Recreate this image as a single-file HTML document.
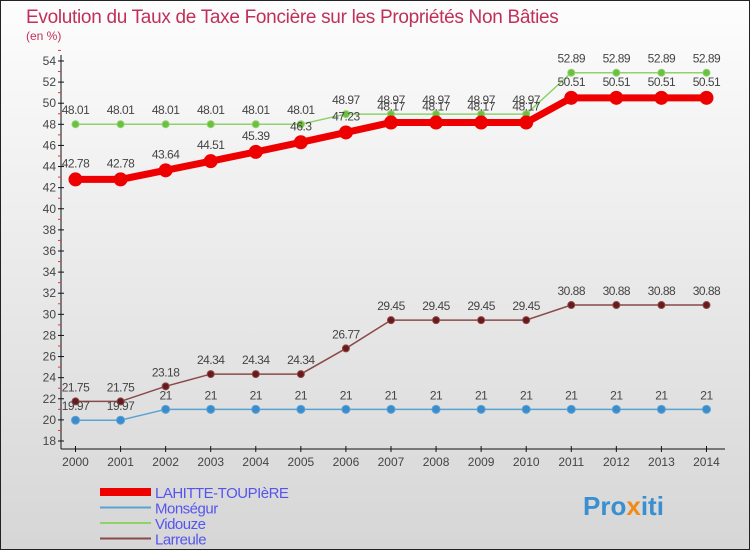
<!DOCTYPE html>
<html><head><meta charset="utf-8"><style>
body{margin:0;width:750px;height:550px;overflow:hidden;font-family:"Liberation Sans",sans-serif}
svg{display:block}
</style></head><body>
<svg id="chart" width="750" height="550" xmlns="http://www.w3.org/2000/svg">
<defs><linearGradient id="bg" x1="0" y1="0" x2="0" y2="1"><stop offset="0" stop-color="#fdfdfd"/><stop offset="1" stop-color="#d6d6d6"/></linearGradient></defs>
<rect x="0.5" y="0.5" width="749" height="549" fill="url(#bg)" stroke="#222"/>
<text x="26" y="23" font-size="19" fill="#c0305a" letter-spacing="-0.3">Evolution du Taux de Taxe Foncière sur les Propriétés Non Bâties</text>
<text x="26" y="40" font-size="12" fill="#c0305a">(en %)</text>
<g id="axes"></g><g id="series"></g><g id="legend"></g>
<text x="583" y="515" font-size="26" font-weight="bold" fill="#3a8fd0">Pro<tspan fill="#f08a1a">x</tspan>iti</text>
</svg>
<script>
const years=[2000,2001,2002,2003,2004,2005,2006,2007,2008,2009,2010,2011,2012,2013,2014];
const yTicks=[18,20,22,24,26,28,30,32,34,36,38,40,42,44,46,48,50,52,54];
const names=["LAHITTE-TOUPIèRE","Monségur","Vidouze","Larreule"];
const lahitte=[42.78,42.78,43.64,44.51,45.39,46.3,47.23,48.17,48.17,48.17,48.17,50.51,50.51,50.51,50.51];
const monsegur=[19.97,19.97,21,21,21,21,21,21,21,21,21,21,21,21,21];
const vidouze=[48.01,48.01,48.01,48.01,48.01,48.01,48.97,48.97,48.97,48.97,48.97,52.89,52.89,52.89,52.89];
const larreule=[21.75,21.75,23.18,24.34,24.34,24.34,26.77,29.45,29.45,29.45,29.45,30.88,30.88,30.88,30.88];
const NS="http://www.w3.org/2000/svg";
const X=i=>75.5+i*45.07;
const Y=v=>441-(v-18)*10.556;
function mk(p,t,a){const e=document.createElementNS(NS,t);for(const k in a)e.setAttribute(k,a[k]);p.appendChild(e);return e;}
const ax=document.getElementById('axes');
let e=mk(ax,'line',{x1:61,y1:55,x2:61,y2:449,stroke:'#111'});


e=mk(ax,'line',{x1:61,y1:449,x2:725,y2:449,stroke:'#111'});


yTicks.forEach(v=>{
 mk(ax,'line',{x1:58,y1:Y(v),x2:64,y2:Y(v),stroke:'#111'});
 mk(ax,'line',{x1:58,y1:Y(v+1),x2:61,y2:Y(v+1),stroke:'#e33'});
 const t=mk(ax,'text',{x:56,y:Y(v)+4,'font-size':12,'text-anchor':'end',fill:'#444'});t.textContent=v;
 
 
});
years.forEach((y,i)=>{
 mk(ax,'line',{x1:X(i),y1:446,x2:X(i),y2:452,stroke:'#111'});
 const t=mk(ax,'text',{x:X(i),y:466,'font-size':12,'text-anchor':'middle',fill:'#444'});t.textContent=y;
 
 
});
const sg=document.getElementById('series');
function draw(vals,color,w,r,mfill,name,labOff){
 const g=mk(sg,'g',{});
 
 
 mk(g,'polyline',{points:vals.map((v,i)=>X(i)+','+Y(v)).join(' '),fill:'none',stroke:color,'stroke-width':w});
 vals.forEach((v,i)=>{
  const c=mk(g,'circle',{cx:X(i),cy:Y(v),r:r,fill:mfill,stroke:color});
  
  
  const t=mk(g,'text',{x:X(i),y:Y(v)-labOff,'font-size':12,'text-anchor':'middle',fill:'#444','letter-spacing':'-0.5'});
  t.textContent=v;
  
  
 });
}
draw(vidouze,'#8fd26a',1.5,3.5,'#6cc040','vidouze',10);
draw(larreule,'#8a4a4a',1.5,3.5,'#6a1a1a','larreule',10);
draw(monsegur,'#5aa2d2',1.5,4,'#3a8ccc','monsegur',10);
draw(lahitte,'#ee0000',7,6.5,'#ee0000','lahitte-toupiere',12);
const lg=document.getElementById('legend');
const lc=['#ee0000','#5aa2d2','#8fd26a','#8a4a4a'],lw=[8,2,2,2];
names.forEach((n,i)=>{
 const y=492+i*15.5;
 const g=mk(lg,'g',{});
 
 
 mk(g,'line',{x1:100,y1:y,x2:151,y2:y,stroke:lc[i],'stroke-width':lw[i]});
 const t=mk(g,'text',{x:155,y:y+6,'font-size':15,fill:'#5555ee','letter-spacing':'-0.5'});t.textContent=n;
});
</script>
</body></html>
